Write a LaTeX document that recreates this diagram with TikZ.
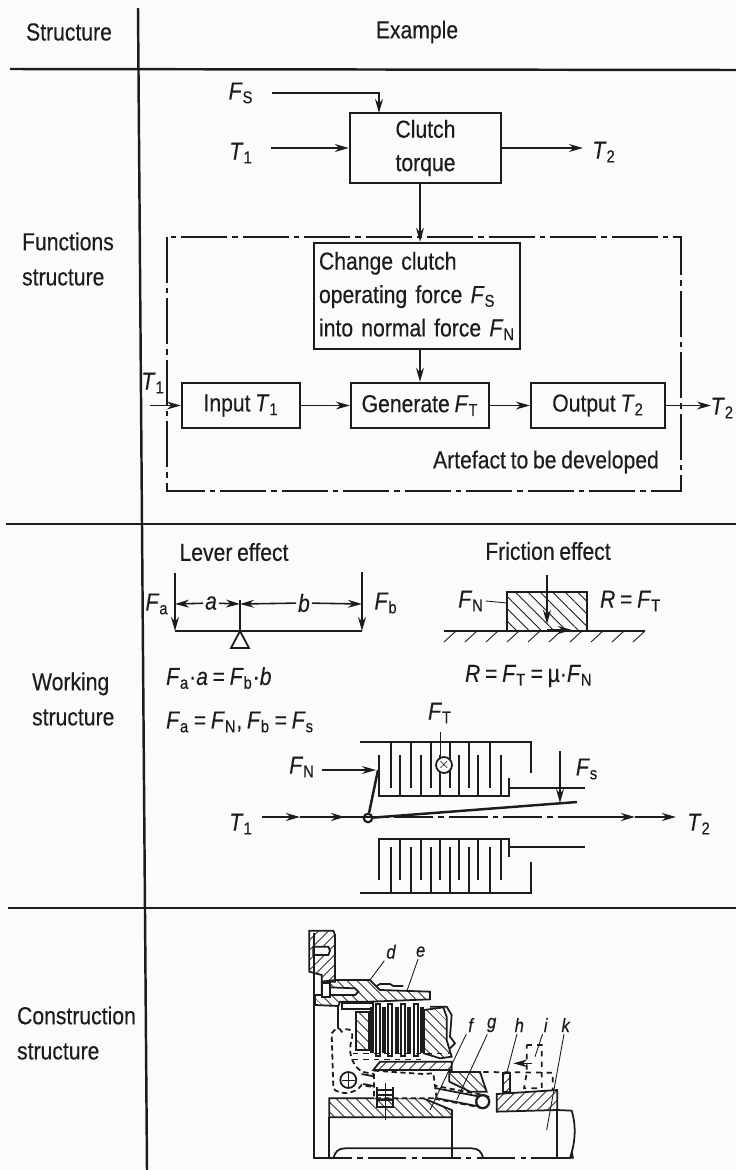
\documentclass[tikz,border=0pt]{standalone}
\usepackage{fontspec}
\setmainfont[FakeStretch=0.86, WordSpace=0.8, FakeBold=0.25]{Liberation Sans}
\usepackage{tikz}
\usetikzlibrary{positioning,arrows.meta,calc,patterns.meta}
\usepackage{xcolor}
\definecolor{ink}{HTML}{1C1C1C}
\definecolor{paper}{HTML}{FBFBF9}
\newcommand{\vsub}[2]{\textit{#1}\textsubscript{#2}}
\newcommand{\clutchPack}{%
    \draw[partLine] (360,742) -- (531,742) -- (531,773);
    \draw[partLine] (379,755) -- (379,796) -- (509,796) -- (509,778);
    \draw[partLine] (509,788) -- (585,788);
    \foreach \xpos in {391,411,431,450,469,490} {
        \draw[partLine] (\xpos,742) -- (\xpos,788);
    }
    \foreach \xpos in {400,421,440,459,478,501} {
        \draw[partLine] (\xpos,796) -- (\xpos,755);
    }
}

\begin{document}
\begin{tikzpicture}[
    x=0.02cm, y=-0.02cm,
    labelText/.style={font=\fontsize{14}{19}\selectfont, text=ink, inner sep=1pt},
    sideText/.style={labelText, font=\fontsize{14}{20}\selectfont, align=left, anchor=west},
    funcBox/.style={rectangle, draw=ink, line width=1.3pt, fill=paper, font=\fontsize{14}{19}\selectfont, text=ink, align=center, inner sep=2pt},
    ruleLine/.style={draw=ink, line width=1.4pt},
    flowArrow/.style={-{Stealth[length=8pt,width=4.5pt]}, draw=ink, line width=0.9pt},
    frameLine/.style={draw=ink, line width=1.2pt, dash pattern=on 26pt off 3pt on 3pt off 3pt},
    partLine/.style={draw=ink, line width=1pt},
    thinPart/.style={draw=ink, line width=0.5pt},
    hatchNE/.style={pattern={Lines[angle=45,distance=4pt,line width=0.45pt]}, pattern color=ink},
    hatchNW/.style={pattern={Lines[angle=-45,distance=4pt,line width=0.45pt]}, pattern color=ink},
    blockHatch/.style={pattern={Lines[angle=-45,distance=5pt,line width=0.5pt]}, pattern color=ink}
]
    \useasboundingbox[fill=paper] (0,0) rectangle (736,1170);

    % table rules
    \draw[ruleLine] (10,69) -- (736,70);
    \draw[ruleLine] (6,524) -- (736,524);
    \draw[ruleLine] (8,908) -- (736,908);
    \draw[ruleLine] (138,8) -- (147,1170);

    \node[sideText] (structHead) at (24,32) {Structure};
    \node[labelText] (exampleHead) at (417,32) {Example};
    \node[sideText] (funcSide) at (20,259) {Functions\\structure};
    \node[sideText] (workSide) at (30,699) {Working\\structure};
    \node[sideText] (consSide) at (15,1033) {Construction\\structure};

    % functions structure
    \node[funcBox, minimum width=3.02cm, minimum height=1.4cm] (clutch) at (425.5,148) {Clutch\\torque};
    \draw[frameLine] (167,237) rectangle (681,491);
    \node[funcBox, align=left, text width=3.92cm, inner xsep=0.1cm, minimum height=2.12cm] (change) at (417,296) {Change clutch\\operating force \vsub{F}{S}\\into normal force \vsub{F}{N}};
    \node[funcBox, minimum width=2.36cm, minimum height=0.9cm] (input) at (241,405.5) {Input \vsub{T}{1}};
    \node[funcBox, minimum width=2.76cm, minimum height=0.9cm] (generate) at (420,405.5) {Generate \vsub{F}{T}};
    \node[funcBox, minimum width=2.68cm, minimum height=0.9cm] (output) at (598,405.5) {Output \vsub{T}{2}};
    \node[labelText] (artefact) at (546,462) {Artefact to be developed};

    \node[labelText] (fsTop) at (241,93) {\vsub{F}{S}};
    \node[labelText] (t1Top) at (241,153) {\vsub{T}{1}};
    \node[labelText] (t2Top) at (604,152) {\vsub{T}{2}};
    \node[labelText] (t1In) at (153,383) {\vsub{T}{1}};
    \node[labelText, anchor=east] (t2Out) at (736,408) {\vsub{T}{2}};

    \coordinate (fsStart) at (272,93);
    \coordinate (t1Start) at (271,148);
    \coordinate (t2End) at (583,148);
    \coordinate (t1InStart) at (150,405.5);
    \coordinate (t2OutEnd) at (711,405.5);

    \draw[flowArrow] (fsStart) -- (379,93) -- (379,113);
    \draw[flowArrow] (t1Start) -- (clutch.west);
    \draw[flowArrow] (clutch.east) -- (t2End);
    \draw[flowArrow] (clutch.south -| generate.north) -- (change.north -| generate.north);
    \draw[flowArrow] (change.south -| generate.north) -- (generate.north);
    \draw[flowArrow] (t1InStart) -- (input.west);
    \draw[flowArrow] (input.east) -- (generate.west);
    \draw[flowArrow] (generate.east) -- (output.west);
    \draw[flowArrow] (output.east) -- (t2OutEnd);

    % working structure: lever
    \node[labelText] (leverHead) at (234,552) {Lever effect};
    \node[labelText] (frictionHead) at (548,551) {Friction effect};
    \draw[flowArrow, line width=1.2pt] (175,573) -- (175,631);
    \draw[flowArrow, line width=1.2pt] (362,572) -- (362,631);
    \draw[partLine, line width=1.2pt] (175,631) -- (362,631);
    \draw[partLine] (240,600) -- (240,631);
    \draw[partLine] (240,631) -- (231,648) -- (249,648) -- cycle;
    \node[labelText] (leverFa) at (157,604) {\vsub{F}{a}};
    \node[labelText] (leverFb) at (386,603) {\vsub{F}{b}};
    \node[labelText, fill=paper] (leverA) at (211,603) {\textit{a}};
    \node[labelText, fill=paper] (leverB) at (304,603) {\textit{b}};
    \draw[flowArrow] (leverA) -- (175,604);
    \draw[flowArrow] (leverA) -- (240,604);
    \draw[flowArrow] (leverB) -- (240,604);
    \draw[flowArrow] (leverB) -- (362,604);

    % working structure: friction
    \draw[blockHatch, draw=ink, line width=1pt] (507,592) rectangle (587,631);
    \draw[partLine, line width=1.2pt] (444,631) -- (645,631);
    \foreach \xpos in {0,...,9} {
        \draw[thinPart] ({456+\xpos*21},631) -- ({444+\xpos*21},642);
    }
    \draw[flowArrow, line width=1.2pt] (547,575) -- (547,624);
    \draw[flowArrow, line width=1.4pt] (547,630) -- (572,630);
    \node[labelText] (frictionFn) at (471,601) {\vsub{F}{N}};
    \node[labelText, anchor=west] (frictionR) at (598,601) {\textit{R} = \vsub{F}{T}};
    \draw[thinPart] (frictionFn.east) -- (507,603);

    \node[labelText, anchor=west] (leverEq) at (164,678) {\vsub{F}{a}·\textit{a} = \vsub{F}{b}·\textit{b}};
    \node[labelText, anchor=west] (frictionEq) at (463,676) {\textit{R} = \vsub{F}{T} = µ·\vsub{F}{N}};
    \node[labelText, anchor=west] (subsEq) at (164,722) {\vsub{F}{a} = \vsub{F}{N}, \vsub{F}{b} = \vsub{F}{s}};

    % working structure: disc pack
    \clutchPack
    \begin{scope}[shift={(0,1635)}, yscale=-1]
        \clutchPack
    \end{scope}
    \node[labelText] (packFt) at (440,713) {\vsub{F}{T}};
    \node[labelText] (packFn) at (302,767) {\vsub{F}{N}};
    \node[labelText] (packFs) at (587,769) {\vsub{F}{s}};
    \node[labelText] (packT1) at (241,824) {\vsub{T}{1}};
    \node[labelText] (packT2) at (699,824) {\vsub{T}{2}};
    \node[circle, draw=ink, line width=1pt, fill=paper, minimum size=0.32cm, inner sep=0pt, label={[inner sep=0pt]center:\footnotesize$\times$}] (packCross) at (444,765) {};
    \node[circle, draw=ink, line width=1.2pt, fill=paper, minimum size=0.17cm, inner sep=0pt] (packPivot) at (368,818) {};
    \coordinate (packWedge) at (577,802);
    \coordinate (packFnEnd) at (376,770);
    \coordinate (packFsEnd) at (560,803);
    \coordinate (packFsStart) at (560,751);
    \coordinate (packFtStart) at (440,732);
    \draw[thinPart] (packFtStart) -- (packCross.north -| packFtStart);
    \draw[flowArrow] (322,770) -- (packFnEnd);
    \draw[flowArrow, line width=1.2pt] (packFsStart) -- (packFsEnd);
    \draw[partLine, line width=1.4pt] (packPivot) -- (378,770);
    \draw[partLine, line width=1.4pt] (packPivot) -- (packWedge);
    \draw[partLine, line width=0.7pt, dash pattern=on 22pt off 3pt on 3pt off 3pt] (340,817) -- (595,817);
    \draw[flowArrow, line width=1.3pt] (262,817) -- (300,817);
    \draw[flowArrow, line width=1.3pt] (300,817) -- (345,817);
    \draw[flowArrow, line width=1.3pt] (592,817) -- (635,817);
    \draw[flowArrow, line width=1.3pt] (635,817) -- (676,817);

    % construction structure
    \begin{scope}[shift={(280,900)}, scale=1/3]
        % hatched parts
        \draw[hatchNE, partLine] (88,92) -- (160,92) -- (165,105) -- (165,245) -- (125,245) -- (125,225) -- (88,215) -- cycle;
        \draw[hatchNW, partLine] (165,240) -- (270,240) -- (300,270) -- (450,275) -- (450,298) -- (270,305) -- (180,305) -- (175,318) -- (105,315) -- (105,285) -- (125,285) -- (125,245) -- cycle;
        \draw[hatchNW, partLine] (228,335) -- (268,335) -- (268,450) -- (228,450) -- cycle;
        \draw[hatchNW, partLine] (432,330) -- (490,322) -- (500,350) -- (500,420) -- (515,470) -- (480,475) -- (432,460) -- cycle;
        \draw[hatchNE, partLine] (300,485) -- (515,485) -- (515,510) -- (280,510) -- cycle;
        \draw[hatchNW, partLine] (148,595) -- (430,595) -- (515,630) -- (515,652) -- (148,652) -- cycle;
        \draw[hatchNE, partLine] (650,582) -- (832,570) -- (832,630) -- (650,635) -- cycle;
        \draw[hatchNW, partLine] (508,516) -- (600,516) -- (620,575) -- (570,575) -- (508,545) -- cycle;
        \draw[hatchNE, partLine] (668,520) -- (690,520) -- (690,575) -- (668,575) -- cycle;
        % housing outlines
        \draw[partLine, fill=paper] (100,140) -- (145,140) -- (150,152) -- (145,165) -- (100,165) -- cycle;
        \draw[partLine, fill=paper] (150,262) -- (225,265) -- (235,275) -- (225,285) -- (150,285) -- cycle;
        \draw[partLine, fill=paper] (125,248) -- (150,248) -- (150,290) -- (125,290) -- cycle;
        \draw[partLine, fill=paper] (185,308) -- (280,308) -- (280,328) -- (185,328) -- cycle;
        \draw[partLine, line width=1.6pt] (102,100) -- (102,775);
        \draw[partLine] (175,318) -- (175,400);
        \draw[partLine] (450,320) -- (500,320) -- (515,345) -- (510,410) -- (525,430) -- (510,445);
        \draw[partLine] (290,258) -- (300,252) -- (330,252) -- (340,258) -- (370,258);
        % disc pack
        \foreach \xpos in {275,312,350,388,425} {
            \draw[draw=ink, line width=2.4pt] (\xpos,320) -- (\xpos,460);
        }
        \foreach \xpos in {295,331,369,407} {
            \draw[partLine] (\xpos-6,312) -- (\xpos-6,468) -- (\xpos+6,468) -- (\xpos+6,312) -- cycle;
        }
        \draw[thinPart, dashed] (155,460) -- (505,460);
        \draw[thinPart, dashed] (155,478) -- (430,478);
        % bell crank and link
        \draw[partLine, densely dashed, fill=paper] (155,400) .. controls (165,385) and (180,380) .. (185,395) .. controls (195,380) and (225,385) .. (215,420) .. controls (205,450) and (210,490) .. (245,515) -- (610,585) -- (625,590) -- (610,625) -- (590,620) -- (245,555) .. controls (225,585) and (175,585) .. (160,565) -- cycle;
        \draw[partLine] (245,522) -- (600,590);
        \draw[partLine] (250,552) -- (590,618);
        \node[circle, draw=ink, line width=1pt, fill=paper, minimum size=0.32cm, inner sep=0pt] (pinLeft) at (205,540) {};
        \node[circle, draw=ink, line width=1.3pt, fill=paper, minimum size=0.26cm, inner sep=0pt] (pinRight) at (608,605) {};
        \draw[thinPart] (185,540) -- (225,540);
        \draw[thinPart] (205,520) -- (205,560);
        % inner carrier and spring
        \draw[partLine, fill=paper, densely dashed] (282,512) -- (430,522) -- (460,520) -- (470,595) -- (282,595) -- cycle;
        \draw[draw=ink, line width=1.6pt] (290,570) -- (340,570) (290,585) -- (340,585) (290,600) -- (340,600);
        \draw[partLine] (290,560) -- (290,620) -- (340,620) -- (340,560);
        \draw[thinPart] (315,550) -- (315,660);
        % sliding collar, dashed position
        \draw[partLine, dashed] (610,516) -- (818,518) -- (818,570);
        \draw[partLine, dashed] (740,435) -- (785,435) -- (785,565) -- (732,565) -- (740,520) -- cycle;
        \draw[flowArrow, line width=0.7pt] (755,490) -- (700,490);
        % hub
        \draw[partLine] (148,652) -- (148,775);
        \draw[partLine] (515,630) -- (515,775);
        \draw[partLine] (832,630) -- (875,632) .. controls (890,680) and (885,730) .. (870,775);
        \draw[partLine] (160,775) .. controls (165,755) and (175,745) .. (195,745) -- (575,745) .. controls (595,745) and (605,755) .. (610,775);
        \draw[partLine] (832,630) -- (832,775);
        \draw[partLine, dash pattern=on 22pt off 3pt on 3pt off 3pt] (100,775) -- (880,775);
        \fill[ink] (868,776) -- (882,776) -- (876,745) -- cycle;
        % position labels
        \node[labelText, font=\fontsize{11}{13}\selectfont\itshape] (markD) at (333,155) {d};
        \node[labelText, font=\fontsize{11}{13}\selectfont\itshape] (markE) at (422,155) {e};
        \node[labelText, font=\fontsize{11}{13}\selectfont\itshape] (markF) at (572,375) {f};
        \node[labelText, font=\fontsize{11}{13}\selectfont\itshape] (markG) at (635,375) {g};
        \node[labelText, font=\fontsize{11}{13}\selectfont\itshape] (markH) at (718,375) {h};
        \node[labelText, font=\fontsize{11}{13}\selectfont\itshape] (markI) at (797,375) {i};
        \node[labelText, font=\fontsize{11}{13}\selectfont\itshape] (markK) at (857,375) {k};
        \coordinate (tipD) at (270,240);
        \coordinate (tipE) at (380,275);
        \coordinate (tipF) at (450,630);
        \coordinate (tipG) at (530,600);
        \coordinate (tipH) at (680,520);
        \coordinate (tipI) at (765,470);
        \coordinate (tipK) at (800,690);
        \draw[thinPart] (markD) -- (tipD);
        \draw[thinPart] (markE) -- (tipE);
        \draw[thinPart] (markF) -- (tipF);
        \draw[thinPart] (markG) -- (tipG);
        \draw[thinPart] (markH) -- (tipH);
        \draw[thinPart] (markI) -- (tipI);
        \draw[thinPart] (markK) -- (tipK);
    \end{scope}
\end{tikzpicture}
\end{document}
